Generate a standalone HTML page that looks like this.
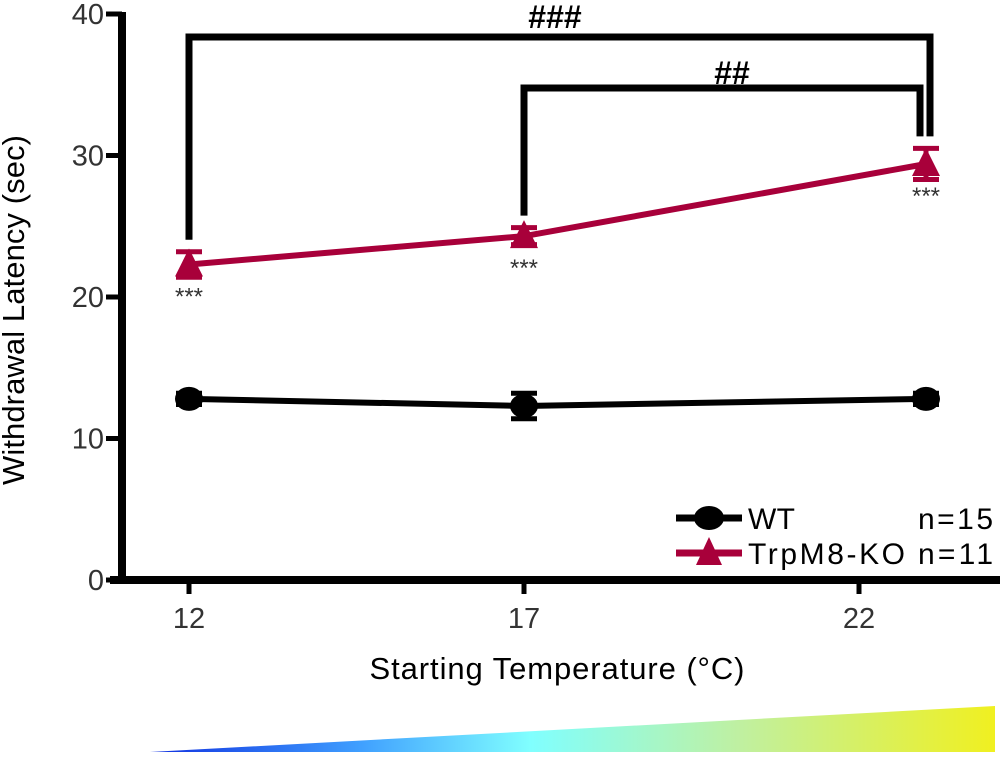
<!DOCTYPE html>
<html><head><meta charset="utf-8"><style>
body{margin:0;background:#fff;}
svg{display:block;font-family:"Liberation Sans",Arial,sans-serif;}
</style></head><body>
<svg id="chart" width="1000" height="758">
<defs>
<linearGradient id="grad" x1="0" x2="1" y1="0" y2="0">
<stop offset="0" stop-color="#1030e0"/><stop offset="0.25" stop-color="#40a0ff"/>
<stop offset="0.45" stop-color="#80ffff"/><stop offset="0.7" stop-color="#c0f0a0"/>
<stop offset="1" stop-color="#f0f020"/></linearGradient>
</defs>
<polygon points="150,752 995,706 995,752" fill="url(#grad)"/>
<g id="axes"></g>
<g id="marks"></g>
<text x="24" y="310" font-size="31" text-anchor="middle" transform="rotate(-90 24 310) scale(1,1)" textLength="350">Withdrawal Latency (sec)</text>
<text x="557" y="679" font-size="31" text-anchor="middle" textLength="375">Starting Temperature (°C)</text>
<text x="555" y="28" font-size="32" font-weight="bold" text-anchor="middle">###</text>
<text x="732" y="84" font-size="32" font-weight="bold" text-anchor="middle">##</text>
<g>
<line x1="676" y1="518" x2="742" y2="518" stroke="#000" stroke-width="7"/>
<ellipse cx="709" cy="518" rx="15" ry="12" fill="#000"/>
<text x="748" y="529" font-size="30" textLength="47">WT</text>
<text x="918" y="529" font-size="30" textLength="75">n=15</text>
<line x1="676" y1="553" x2="742" y2="553" stroke="#a8003a" stroke-width="7"/>
<polygon points="709,537 696,565 722,565" fill="#a8003a"/>
<text x="748" y="564" font-size="30" textLength="157">TrpM8-KO</text>
<text x="918" y="564" font-size="30" textLength="75">n=11</text>
</g>
</svg>
<script>
const xTicks=[12,17,22];
const yTicks=[0,10,20,30,40];
const xPos=[12,17,23];
const wtMean=[12.8,12.3,12.8];
const wtErr=[0.4,0.9,0.4];
const koMean=[22.3,24.3,29.4];
const koErr=[0.9,0.6,1.1];
const ns="http://www.w3.org/2000/svg";
const X=v=>189+(v-12)*67;
const Y=v=>580-v*14.15;
function mk(p,tag,at){const e=document.createElementNS(ns,tag);for(const k in at)e.setAttribute(k,at[k]);p.appendChild(e);return e;}
const ax=document.getElementById('axes'),mg=document.getElementById('marks');
let l=mk(ax,'line',{x1:122,y1:12,x2:122,y2:584,stroke:'#000','stroke-width':8});


l=mk(ax,'line',{x1:110,y1:580,x2:1000,y2:580,stroke:'#000','stroke-width':8});


yTicks.forEach(t=>{mk(ax,'line',{x1:106,y1:Y(t),x2:122,y2:Y(t),stroke:'#000','stroke-width':5});
const tx=mk(ax,'text',{x:104,y:Y(t)+10,'font-size':29,'text-anchor':'end',fill:'#333'});tx.textContent=t;

});
xTicks.forEach(t=>{mk(ax,'line',{x1:X(t),y1:580,x2:X(t),y2:594,stroke:'#000','stroke-width':5});
const tx=mk(ax,'text',{x:X(t),y:628,'font-size':29,'text-anchor':'middle',fill:'#333'});tx.textContent=t;

});
function series(m,e,col,name,tri){
const pl=mk(mg,'polyline',{points:xPos.map((x,i)=>X(x)+','+Y(m[i])).join(' '),fill:'none',stroke:col,'stroke-width':6});


xPos.forEach((x,i)=>{const cx=X(x),cy=Y(m[i]);
mk(mg,'line',{x1:cx,y1:Y(m[i]+e[i]),x2:cx,y2:Y(m[i]-e[i]),stroke:col,'stroke-width':5});
mk(mg,'line',{x1:cx-13,y1:Y(m[i]+e[i]),x2:cx+13,y2:Y(m[i]+e[i]),stroke:col,'stroke-width':5});
mk(mg,'line',{x1:cx-13,y1:Y(m[i]-e[i]),x2:cx+13,y2:Y(m[i]-e[i]),stroke:col,'stroke-width':5});
const p=tri?mk(mg,'polygon',{points:`${cx},${cy-16} ${cx-14},${cy+12} ${cx+14},${cy+12}`,fill:col}):mk(mg,'ellipse',{cx:cx,cy:cy,rx:14,ry:12,fill:col});


if(tri){const s=mk(mg,'text',{x:cx,y:cy+40,'font-size':24,'text-anchor':'middle',fill:'#333'});s.textContent='***';

}});}
series(wtMean,wtErr,'#000','wt',false);
series(koMean,koErr,'#a8003a','ko',true);
const b1=mk(mg,'polyline',{points:`${X(12)},${Y(koMean[0]+koErr[0])-12} ${X(12)},37 ${X(23)+4},37 ${X(23)+4},${Y(koMean[2]+koErr[2])-12}`,fill:'none',stroke:'#000','stroke-width':7});


const b2=mk(mg,'polyline',{points:`${X(17)},${Y(koMean[1]+koErr[1])-12} ${X(17)},88 ${X(23)-6},88 ${X(23)-6},${Y(koMean[2]+koErr[2])-12}`,fill:'none',stroke:'#000','stroke-width':7});


</script>
</body></html>
